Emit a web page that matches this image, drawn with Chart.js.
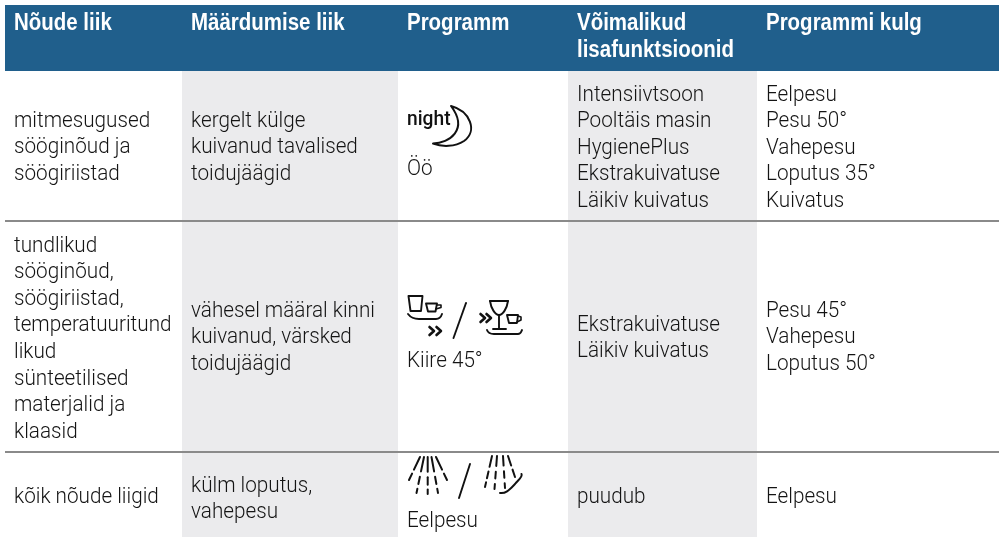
<!DOCTYPE html>
<html>
<head>
<meta charset="utf-8">
<style>
  html, body { margin: 0; padding: 0; background: #fff; }
  canvas { display: block; }
</style>
<script src="https://cdn.jsdelivr.net/npm/chart.js@4"></script>
</head>
<body>
<canvas id="table_chart" width="1002" height="537"></canvas>
<script>
var headers = [['Nõude liik'], ['Määrdumise liik'], ['Programm'], ['Võimalikud', 'lisafunktsioonid'], ['Programmi kulg']];

var row1 = [
  ['mitmesugused', 'sööginõud ja', 'söögiriistad'],
  ['kergelt külge', 'kuivanud tavalised', 'toidujäägid'],
  ['Öö'],
  ['Intensiivtsoon', 'Pooltäis masin', 'HygienePlus', 'Ekstrakuivatuse', 'Läikiv kuivatus'],
  ['Eelpesu', 'Pesu 50°', 'Vahepesu', 'Loputus 35°', 'Kuivatus']
];
var row2 = [
  ['tundlikud', 'sööginõud,', 'söögiriistad,', 'temperatuuritund', 'likud', 'sünteetilised', 'materjalid ja', 'klaasid'],
  ['vähesel määral kinni', 'kuivanud, värsked', 'toidujäägid'],
  ['Kiire 45°'],
  ['Ekstrakuivatuse', 'Läikiv kuivatus'],
  ['Pesu 45°', 'Vahepesu', 'Loputus 50°']
];
var row3 = [
  ['kõik nõude liigid'],
  ['külm loputus,', 'vahepesu'],
  ['Eelpesu'],
  ['puudub'],
  ['Eelpesu']
];

var columnStart = [14, 191, 407, 577, 766];
var headerBase = 30;
var row1Base = [126.5, 126.5, 174.5, 100.5, 100.5];
var row2Base = [251.5, 316.5, 366.5, 330.5, 316.5];
var row3Base = [502.5, 491.5, 526.5, 502.5, 502.5];
var lineStep = 26.6;
var headerStep = 27;

var blue = '#205f8c';
var grey = '#ebebed';
var ruleColor = '#8a8a8a';
var ink = '#141414';
var bodyFont = '300 22.5px Roboto';
var headFont = 'bold 23px "Liberation Sans"';
var nightFont = '500 20px Roboto';
var bodySqueeze = 0.92;
var headSqueeze = 0.89;
var nightSqueeze = 0.96;

function band(x0, x1, y0, y1, color, order) {
  return {
    data: [{x: x0, y: y0}, {x: x1, y: y0}],
    showLine: true,
    fill: {value: y1},
    backgroundColor: color,
    borderWidth: 0,
    pointRadius: 0,
    order: order
  };
}

function rule(y) {
  return {
    data: [{x: 5, y: y}, {x: 999, y: y}],
    showLine: true,
    borderColor: ruleColor,
    borderWidth: 2,
    pointRadius: 0,
    order: 1
  };
}

// small helper: draw a polyline in picture units, mapped through the scales
function stroke(c, s, pts, w) {
  c.lineWidth = w;
  c.beginPath();
  pts.forEach(function (p, i) {
    var px = s.x.getPixelForValue(p[0]), py = s.y.getPixelForValue(p[1]);
    if (i) c.lineTo(px, py); else c.moveTo(px, py);
  });
  c.stroke();
}

function rays(c, s, list) {
  list.forEach(function (r) {
    r[2].forEach(function (seg) {
      stroke(c, s, [
        [r[0][0] + (r[1][0] - r[0][0]) * seg[0], r[0][1] + (r[1][1] - r[0][1]) * seg[0]],
        [r[0][0] + (r[1][0] - r[0][0]) * seg[1], r[0][1] + (r[1][1] - r[0][1]) * seg[1]]
      ], 2);
    });
  });
}

function curve(c, s, start, segs, w) {
  var X = function (v) { return s.x.getPixelForValue(v); };
  var Y = function (v) { return s.y.getPixelForValue(v); };
  c.lineWidth = w;
  c.beginPath();
  c.moveTo(X(start[0]), Y(start[1]));
  segs.forEach(function (g) {
    c.bezierCurveTo(X(g[0]), Y(g[1]), X(g[2]), Y(g[3]), X(g[4]), Y(g[5]));
  });
  c.stroke();
}

function drawIcons(c, s) {
  c.strokeStyle = '#111';
  c.lineCap = 'round';
  c.lineJoin = 'round';

  // moon
  curve(c, s, [451, 106], [[470, 111, 478, 131, 464, 141], [455, 147, 442, 147, 433, 143.5], [449, 143, 469, 130, 451, 106]], 2);

  // fast wash, tumbler and cup
  stroke(c, s, [[408.5, 296], [422.5, 296], [421, 311], [410.5, 311], [408.5, 296]], 1.9);
  stroke(c, s, [[426, 303.5], [437, 303.5], [435.5, 311.5], [428, 311.5], [426, 303.5]], 1.9);
  stroke(c, s, [[437, 305], [441, 305], [441, 307.5], [436, 309]], 1.6);
  curve(c, s, [408, 314], [[411, 318, 414, 319, 419, 319], [425, 319, 431, 319, 436, 319], [439, 319, 441, 317, 442, 314]], 1.9);
  stroke(c, s, [[429.5, 327], [434, 331], [429.5, 335]], 2.6);
  stroke(c, s, [[436.5, 327], [441, 331], [436.5, 335]], 2.6);
  stroke(c, s, [[466, 303], [453.5, 338]], 1.9);

  // fast wash, wine glass and cup
  stroke(c, s, [[480.5, 314], [485, 318], [480.5, 322]], 2.6);
  stroke(c, s, [[486.5, 314], [491, 318], [486.5, 322]], 2.6);
  curve(c, s, [490, 301], [[491, 308, 495, 315, 499, 315], [503, 315, 507, 308, 508, 301]], 1.9);
  stroke(c, s, [[490, 301], [508, 301]], 1.9);
  stroke(c, s, [[499, 315], [499, 329]], 1.9);
  stroke(c, s, [[493, 329], [506, 329]], 1.9);
  stroke(c, s, [[507, 315], [518, 315], [517, 323], [509, 323], [507, 315]], 1.9);
  stroke(c, s, [[518, 316], [521, 317], [521, 320], [517, 322]], 1.6);
  curve(c, s, [487, 330], [[488, 333, 490, 334, 494, 334], [502, 334, 510, 334, 518, 334], [521, 334, 521, 332, 522, 330]], 1.9);

  // prewash, spray
  rays(c, s, [
    [[420, 457], [409, 480], [[0, 0.55], [0.72, 1]]],
    [[424, 457], [416.5, 493], [[0, 0.4], [0.55, 0.75], [0.88, 1]]],
    [[427.7, 457], [427.7, 494], [[0, 0.4], [0.55, 0.75], [0.88, 1]]],
    [[431.5, 457], [438, 493], [[0, 0.4], [0.55, 0.75], [0.88, 1]]],
    [[436, 457], [447, 480], [[0, 0.55], [0.72, 1]]]
  ]);
  stroke(c, s, [[470, 464], [459, 498]], 1.9);

  // prewash, spray over the hand shape
  rays(c, s, [
    [[492, 456], [485, 487], [[0, 0.35], [0.5, 0.72], [0.85, 1]]],
    [[497, 456], [494.5, 489], [[0, 0.3], [0.48, 0.68], [0.85, 1]]],
    [[503, 456], [505, 488], [[0, 0.3], [0.48, 0.68], [0.85, 1]]],
    [[508, 456], [515, 477], [[0, 0.45], [0.65, 1]]]
  ]);
  curve(c, s, [521.5, 474], [[523, 477, 518, 480, 515, 484], [510, 489, 506, 494, 500, 493]], 2);
}

var tableText = {
  id: 'tableText',
  afterDatasetsDraw: function (chart) {
    var c = chart.ctx;
    var s = chart.scales;

    function put(text, col, base, font, color, squeeze) {
      c.save();
      c.font = font;
      c.fillStyle = color;
      c.textBaseline = 'alphabetic';
      c.translate(s.x.getPixelForValue(col), s.y.getPixelForValue(base));
      c.scale(squeeze, 1);
      c.fillText(text, 0, 0);
      c.restore();
    }

    headers.forEach(function (lines, i) {
      lines.forEach(function (t, j) {
        put(t, columnStart[i], headerBase + j * headerStep, headFont, '#fff', headSqueeze);
      });
    });
    [[row1, row1Base], [row2, row2Base], [row3, row3Base]].forEach(function (r) {
      r[0].forEach(function (lines, i) {
        lines.forEach(function (t, j) {
          put(t, columnStart[i], r[1][i] + j * lineStep, bodyFont, ink, bodySqueeze);
        });
      });
    });
    put('night', 407, 125, nightFont, '#111', nightSqueeze);

    c.save();
    drawIcons(c, s);
    c.restore();
  }
};

new Chart(document.getElementById('table_chart'), {
  type: 'scatter',
  data: {
    datasets: [
      band(5, 999, 5, 71, blue, 3),
      band(182, 398, 71, 537, grey, 3),
      band(568, 757, 71, 537, grey, 3),
      rule(221),
      rule(452)
    ]
  },
  options: {
    responsive: false,
    animation: false,
    layout: {padding: 0},
    plugins: {legend: {display: false}, tooltip: {enabled: false}},
    scales: {
      x: {type: 'linear', min: 0, max: 1002, display: false},
      y: {type: 'linear', min: 0, max: 537, reverse: true, display: false}
    }
  },
  plugins: [tableText]
});
</script>
</body>
</html>
